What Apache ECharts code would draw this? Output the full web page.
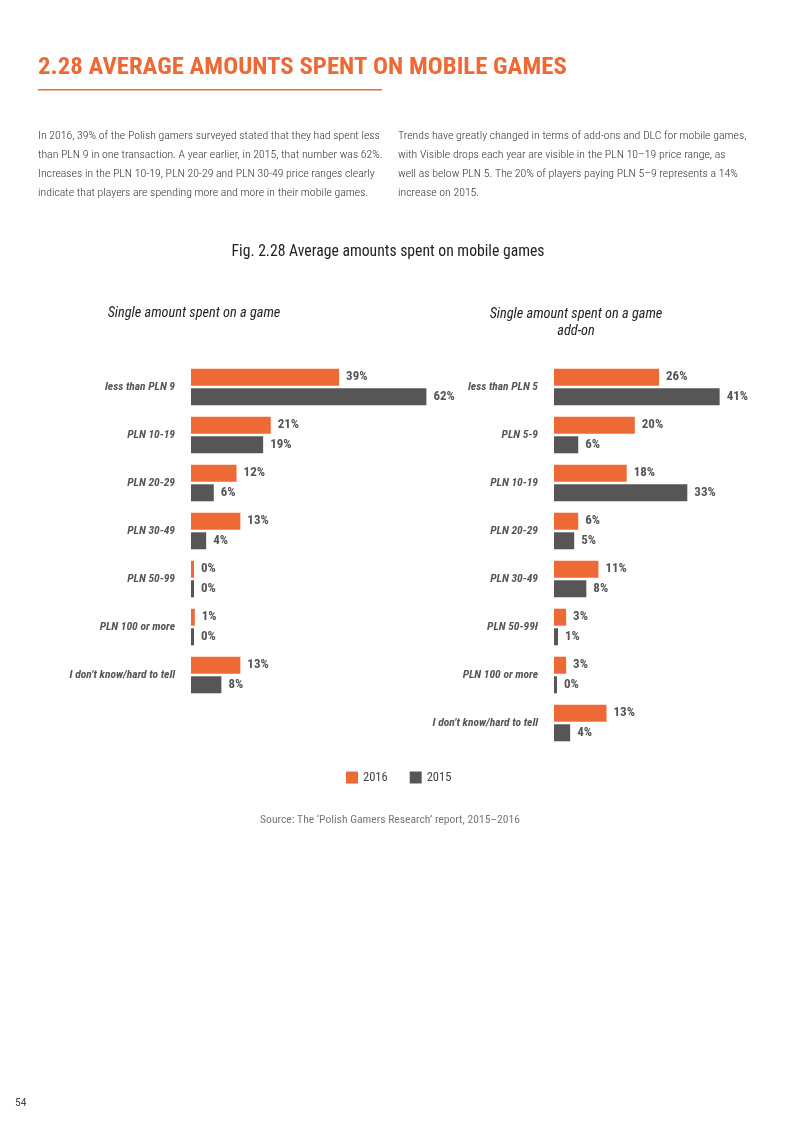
<!DOCTYPE html>
<html>
<head>
<meta charset="utf-8">
<script src="https://cdn.jsdelivr.net/npm/echarts@6/dist/echarts.min.js"></script>
<style>
  html, body { margin: 0; padding: 0; background: #fff; }
  #page { width: 800px; height: 1131px; }
</style>
</head>
<body>
<div id="page"></div>
<script>
// left chart: single amount spent on a game
const categoriesGame = ['less than PLN 9', 'PLN 10-19', 'PLN 20-29', 'PLN 30-49', 'PLN 50-99', 'PLN 100 or more', 'I don\u2019t know/hard to tell'];
const game2016 = [39, 21, 12, 13, 0, 1, 13];
const game2015 = [62, 19, 6, 4, 0, 0, 8];

// right chart: single amount spent on a game add-on
const categoriesAddon = ['less than PLN 5', 'PLN 5-9', 'PLN 10-19', 'PLN 20-29', 'PLN 30-49', 'PLN 50-99\u0142', 'PLN 100 or more', 'I don\u2019t know/hard to tell'];
const addon2016 = [26, 20, 18, 6, 11, 3, 3, 13];
const addon2015 = [41, 6, 33, 5, 8, 1, 0, 4];

const years = ['2016', '2015'];

const textLeft = [
    'In 2016, 39% of the Polish gamers surveyed stated that they had spent less',
    'than PLN 9 in one transaction. A year earlier, in 2015, that number was 62%.',
    'Increases in the PLN 10-19, PLN 20-29 and PLN 30-49 price ranges clearly',
    'indicate that players are spending more and more in their mobile games.'
];
const textRight = [
    'Trends have greatly changed in terms of add-ons and DLC for mobile games,',
    'with Visible drops each year are visible in the PLN 10\u201319 price range, as',
    'well as below PLN 5. The 20% of players paying PLN 5\u20139 represents a 14%',
    'increase on 2015.'
];

const ORANGE = '#ed6a37';
const GREY = '#575654';
const NARROW = '"Roboto Condensed", "Liberation Sans Narrow", "DejaVu Sans Condensed", Roboto, sans-serif';

const chart = echarts.init(document.getElementById('page'), null, { renderer: 'canvas' });

const paragraph = (lines, x) => lines.map((line, i) => ({
    type: 'text',
    left: x,
    top: 130 + i * 19,
    style: { text: line, font: '300 11.8px ' + NARROW, fill: '#333' }
}));

const buildSeries = (name, data, color, idx) => ({
    name,
    type: 'bar',
    xAxisIndex: idx,
    yAxisIndex: idx,
    barWidth: 17,
    barGap: '15%',
    barMinHeight: 3,
    itemStyle: { color },
    label: {
        show: true,
        position: 'right',
        distance: 7,
        formatter: '{c}%',
        fontFamily: NARROW,
        fontWeight: 'bold',
        fontSize: 13,
        color: '#555'
    },
    data
});

const catAxis = (data, idx) => ({
    type: 'category',
    gridIndex: idx,
    inverse: true,
    data,
    axisLine: { show: false },
    axisTick: { show: false },
    axisLabel: {
        margin: 16,
        fontFamily: NARROW,
        fontStyle: 'italic',
        fontWeight: 'bold',
        fontSize: 11.5,
        color: '#555'
    }
});

const valAxis = (max, idx) => ({
    type: 'value',
    gridIndex: idx,
    min: 0,
    max,
    show: false
});

chart.setOption({
    animation: false,
    backgroundColor: '#fff',
    grid: [
        { left: 191, top: 363, width: 243, height: 336 },
        { left: 554, top: 363, width: 202, height: 384 }
    ],
    xAxis: [valAxis(64, 0), valAxis(50, 1)],
    yAxis: [catAxis(categoriesGame, 0), catAxis(categoriesAddon, 1)],
    legend: {
        data: years,
        left: 341,
        top: 766,
        itemWidth: 12,
        itemHeight: 12,
        itemGap: 22,
        icon: 'rect',
        textStyle: { fontFamily: NARROW, fontSize: 12.5, color: '#444' }
    },
    graphic: [
        {
            type: 'text', left: 38, top: 55,
            style: { text: '2.28 AVERAGE AMOUNTS SPENT ON MOBILE GAMES', font: 'bold 24.8px ' + NARROW, fill: ORANGE }
        },
        {
            type: 'rect', left: 38, top: 89,
            shape: { width: 344, height: 1.5 },
            style: { fill: ORANGE }
        },
        ...paragraph(textLeft, 38),
        ...paragraph(textRight, 398),
        {
            type: 'text', x: 388, y: 244,
            style: { text: 'Fig. 2.28 Average amounts spent on mobile games', font: '15.7px ' + NARROW, fill: '#222', align: 'center' }
        },
        {
            type: 'text', x: 194, y: 306,
            style: { text: 'Single amount spent on a game', font: 'italic 14.3px ' + NARROW, fill: '#222', align: 'center' }
        },
        {
            type: 'text', x: 576, y: 306,
            style: { text: 'Single amount spent on a game\nadd-on', font: 'italic 14.3px ' + NARROW, fill: '#222', align: 'center', lineHeight: 17 }
        },
        {
            type: 'text', x: 390, y: 814,
            style: { text: 'Source: The \u2018Polish Gamers Research\u2019 report, 2015\u20132016', font: '11.6px ' + NARROW, fill: '#777', align: 'center' }
        },
        {
            type: 'text', left: 15, top: 1097,
            style: { text: '54', font: '11.5px ' + NARROW, fill: '#444' }
        }
    ],
    series: [
        buildSeries(years[0], game2016, ORANGE, 0),
        buildSeries(years[1], game2015, GREY, 0),
        buildSeries(years[0], addon2016, ORANGE, 1),
        buildSeries(years[1], addon2015, GREY, 1)
    ]
});
</script>
</body>
</html>
